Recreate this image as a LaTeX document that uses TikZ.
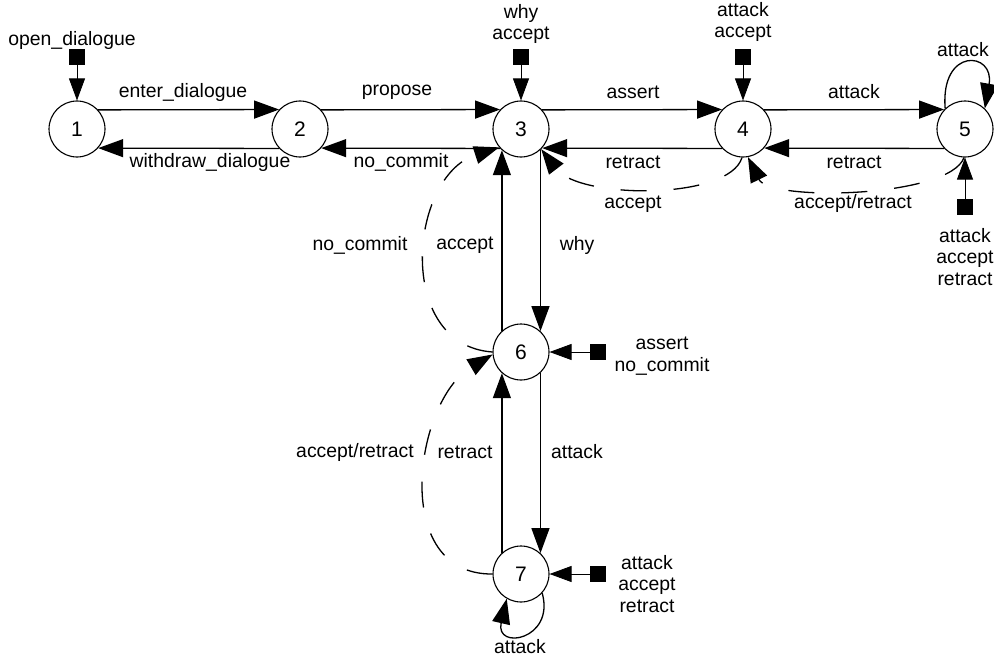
\documentclass[tikz,border=0pt]{standalone}
\usepackage{fontspec}
\setmainfont{Liberation Sans}
\usetikzlibrary{arrows.meta}
\begin{document}
\begin{tikzpicture}[x=1pt,y=-1pt,
  state/.style={circle,draw,line width=1.1pt,minimum size=56pt,inner sep=0pt,font=\fontsize{21}{24}\selectfont},
  lbl/.style={font=\fontsize{19.4}{21.5}\selectfont,align=center,inner sep=0pt},
  tr/.style={line width=1.3pt,-{Triangle[length=25pt,width=18pt]}},
  dtr/.style={tr,dash pattern=on 26pt off 27pt},
  init/.style={line width=0.8pt,-{Triangle[length=22pt,width=16pt]}},
  sq/.style={fill=black,minimum size=16pt,inner sep=0pt}
]
\useasboundingbox (0,0) rectangle (994,661);

% states
\node[state] (n1) at (77,129) {1};
\node[state] (n2) at (300,129) {2};
\node[state] (n3) at (521,129) {3};
\node[state] (n4) at (743,129) {4};
\node[state] (n5) at (965,129) {5};
\node[state] (n6) at (521,352) {6};
\node[state] (n7) at (521,574) {7};

% horizontal transitions
\draw[tr] (n1.42.7) -- (n2.137.3);
\draw[tr] (n2.-137.3) -- (n1.-42.7);
\draw[tr] (n2.42.7) -- (n3.137.3);
\draw[tr] (n3.-137.3) -- (n2.-42.7);
\draw[tr] (n3.42.7) -- (n4.137.3);
\draw[tr] (n4.-137.3) -- (n3.-42.7);
\draw[tr] (n4.42.7) -- (n5.137.3);
\draw[tr] (n5.-137.3) -- (n4.-42.7);

% vertical transitions
\draw[tr] (n6.132.7) -- (n3.-132.7);
\draw[tr] (n3.-47.3) -- (n6.47.3);
\draw[tr] (n6.-47.3) -- (n7.47.3);
\draw[tr] (n7.132.7) -- (n6.-132.7);

% self loops
\draw[tr] (n5.134) .. controls +(-5,-62) and +(10,-57) .. (n5.46);
\draw[tr] (n7.-42) .. controls +(13,47) and +(-12,52) .. (n7.-120);

% dashed transitions
\draw[dtr] (n4.-92) .. controls +(-13,43) and +(38,50) .. (n3.-45);
\draw[dtr] (n5.-92) .. controls +(-14,40) and +(22,45) .. (n4.-80);
\draw[dtr] (n6.180) .. controls +(-98,-7) and +(-90,29) .. (n3.220);
\draw[dtr] (n7.180) .. controls +(-103,1) and +(-78,46) .. (n6.185);

% initial markers
\node[sq] (s1) at (77,57) {};
\node[sq] (s3) at (521,57) {};
\node[sq] (s4) at (743,57) {};
\node[sq] (s5) at (965,207) {};
\node[sq] (s6) at (598,352) {};
\node[sq] (s7) at (598,574) {};
\draw[init] (s1) -- (n1);
\draw[init] (s3) -- (n3);
\draw[init] (s4) -- (n4);
\draw[init] (s5) -- (n5);
\draw[init] (s6) -- (n6);
\draw[init] (s7) -- (n7);

% labels
\node[lbl] (l1) at (72,40) {open\_dialogue};
\node[lbl] (l2) at (183,92) {enter\_dialogue};
\node[lbl] (l3) at (210,162) {withdraw\_dialogue};
\node[lbl] (l4) at (397,92) {propose};
\node[lbl] (l5) at (401,162) {no\_commit};
\node[lbl] (l6) at (633,92) {assert};
\node[lbl] (l7) at (633,162) {retract};
\node[lbl] (l8) at (854,92) {attack};
\node[lbl] (l9) at (854,162) {retract};
\node[lbl] (l10) at (633,204) {accept};
\node[lbl] (l11) at (853,203) {accept/retract};
\node[lbl] (l12) at (521,24) {why\\accept};
\node[lbl] (l13) at (743,22) {attack\\accept};
\node[lbl] (l14) at (963,50) {attack};
\node[lbl] (l15) at (965,257) {attack\\accept\\retract};
\node[lbl] (l16) at (360,245) {no\_commit};
\node[lbl] (l17) at (465,245) {accept};
\node[lbl] (l18) at (577,245) {why};
\node[lbl] (l19) at (662,356) {assert\\no\_commit};
\node[lbl] (l20) at (355,452) {accept/retract};
\node[lbl] (l21) at (465,452) {retract};
\node[lbl] (l22) at (577,452) {attack};
\node[lbl] (l23) at (647,584) {attack\\accept\\retract};
\node[lbl] (l24) at (520,647) {attack};
\end{tikzpicture}
\end{document}
